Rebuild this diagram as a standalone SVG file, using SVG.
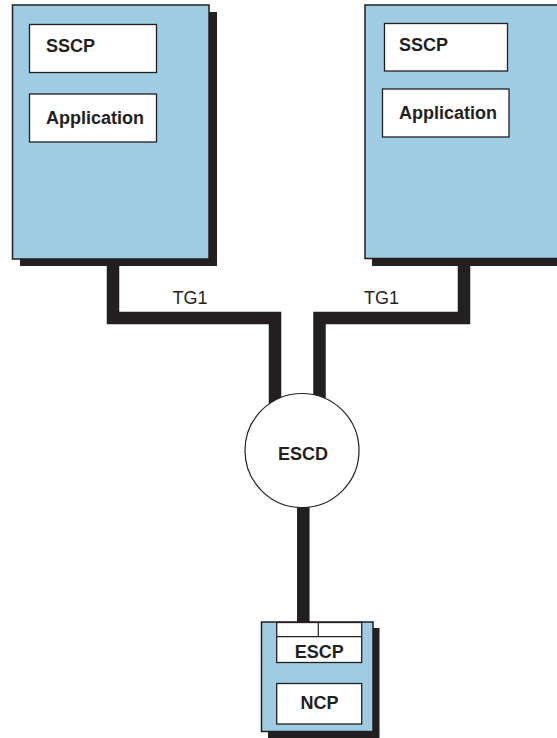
<svg xmlns="http://www.w3.org/2000/svg" width="557" height="738" viewBox="0 0 557 738">
<style>
.host{fill:#9dcce3;stroke:#231f20;stroke-width:1.5}
.shadow{fill:#231f20}
.inner{fill:#ffffff;stroke:#231f20;stroke-width:1.3}
.lbl{font-family:"Liberation Sans",Arial,sans-serif;font-weight:bold;font-size:18px;fill:#231f20}
.tg{font-family:"Liberation Sans",Arial,sans-serif;font-size:18px;fill:#231f20}
.link{fill:none;stroke:#231f20;stroke-width:12.5;stroke-linejoin:miter}
</style>
<rect width="557" height="738" fill="#ffffff"/>
<g id="shadows">
<rect class="shadow" x="20" y="12" width="197" height="254"/>
<rect class="shadow" x="372" y="12" width="200" height="254"/>
<rect class="shadow" x="268" y="628" width="111.5" height="110"/>
</g>
<g id="connectors">
<path class="link" d="M113,259 V318 H275 V420"/>
<path class="link" d="M464,259 V318 H319.5 V420"/>
<path class="link" d="M303.3,480 V622"/>
</g>
<g id="host-left">
<rect class="host" x="12.5" y="5" width="196.5" height="254"/>
<rect class="inner" x="29.5" y="24.5" width="127" height="48"/>
<text class="lbl" x="46" y="52">SSCP</text>
<rect class="inner" x="29.5" y="94" width="127" height="48"/>
<text class="lbl" x="46" y="124">Application</text>
</g>
<g id="host-right">
<rect class="host" x="365" y="5" width="200" height="253.5"/>
<rect class="inner" x="384.5" y="23.5" width="123" height="47.5"/>
<text class="lbl" x="399" y="51">SSCP</text>
<rect class="inner" x="382.5" y="89" width="126.5" height="48"/>
<text class="lbl" x="399" y="119">Application</text>
</g>
<g id="labels">
<text class="tg" x="172.5" y="304">TG1</text>
<text class="tg" x="364" y="304">TG1</text>
</g>
<g id="escd">
<circle cx="302" cy="450.5" r="57" fill="#ffffff" stroke="#231f20" stroke-width="1.2"/>
<text class="lbl" x="303" y="460" text-anchor="middle" font-size="19">ESCD</text>
</g>
<g id="ncp-node">
<rect class="host" x="261.5" y="622" width="111.5" height="109.5"/>
<rect class="inner" x="276.7" y="622.5" width="85" height="40"/>
<line x1="276.7" y1="636.7" x2="361.7" y2="636.7" stroke="#231f20" stroke-width="1.2"/>
<line x1="318.3" y1="622.5" x2="318.3" y2="636.7" stroke="#231f20" stroke-width="1.2"/>
<text class="lbl" x="319.2" y="657.5" text-anchor="middle">ESCP</text>
<rect class="inner" x="276.7" y="683.5" width="85" height="40.5"/>
<text class="lbl" x="319.5" y="708.5" text-anchor="middle">NCP</text>
</g>
</svg>
